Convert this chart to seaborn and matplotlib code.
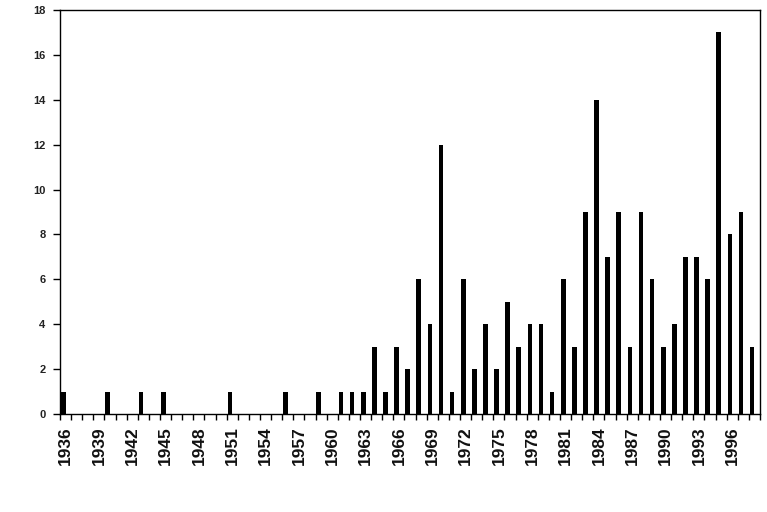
import matplotlib
matplotlib.use('Agg')
import matplotlib.pyplot as plt
import seaborn as sns
import pandas as pd
import numpy as np

years = list(range(1936, 1999))
counts = [1, 0, 0, 0, 1, 0, 0, 1, 0, 1,      # 1936-1945
          0, 0, 0, 0, 0, 1, 0, 0, 0, 0,      # 1946-1955
          1, 0, 0, 1, 0, 1, 1, 1, 3, 1,      # 1956-1965
          3, 2, 6, 4, 12, 1, 6, 2, 4, 2,     # 1966-1975
          5, 3, 4, 4, 1, 6, 3, 9, 14, 7,     # 1976-1985
          9, 3, 9, 6, 3, 4, 7, 7, 6, 17,     # 1986-1995
          8, 9, 3]                           # 1996-1998
label_years = years[::3]
y_ticks = list(range(0, 19, 2))

sns.set_theme(style='white')
plt.rcParams['font.family'] = ['Liberation Sans', 'DejaVu Sans']

n = len(years)
df = pd.DataFrame({
    'year': [str(y) for y in years] * 2,
    'count': counts + [0] * n,
    'series': ['a'] * n + ['b'] * n,
})

fig = plt.figure(figsize=(7.67, 5.12), dpi=100)
ax = fig.add_axes([60 / 767, 1 - 414 / 512, 700 / 767, 404 / 512])
sns.barplot(data=df, x='year', y='count', hue='series', hue_order=['a', 'b'],
            palette=['black', 'black'], dodge=True, width=0.84, legend=False,
            ax=ax, saturation=1, errorbar=None, linewidth=0)

ax.set_xlim(-0.5, n - 0.5)
ax.set_ylim(0, 18)
ax.set_yticks(y_ticks)
ax.set_yticklabels([str(v) for v in y_ticks], fontsize=8, fontweight='bold', color='#222222')
ax.set_xticks([years.index(y) for y in label_years])
ax.set_xticklabels([str(y) for y in label_years], rotation=90, fontsize=12.5,
                   fontweight='bold', color='#111111')
ax.set_xticks(np.arange(-0.5, n, 1), minor=True)
ax.tick_params(axis='x', which='major', length=0, pad=9)
ax.tick_params(axis='x', which='minor', length=4.3, width=1, color='black', direction='out', bottom=True)
ax.tick_params(axis='y', which='major', length=5, width=1, color='black', direction='out', left=True, pad=5.5)
ax.set_xlabel('')
ax.set_ylabel('')
for s in ax.spines.values():
    s.set_color('black')
    s.set_linewidth(1)
    s.set_visible(True)

fig.savefig('out.png', dpi=100, facecolor='white')
